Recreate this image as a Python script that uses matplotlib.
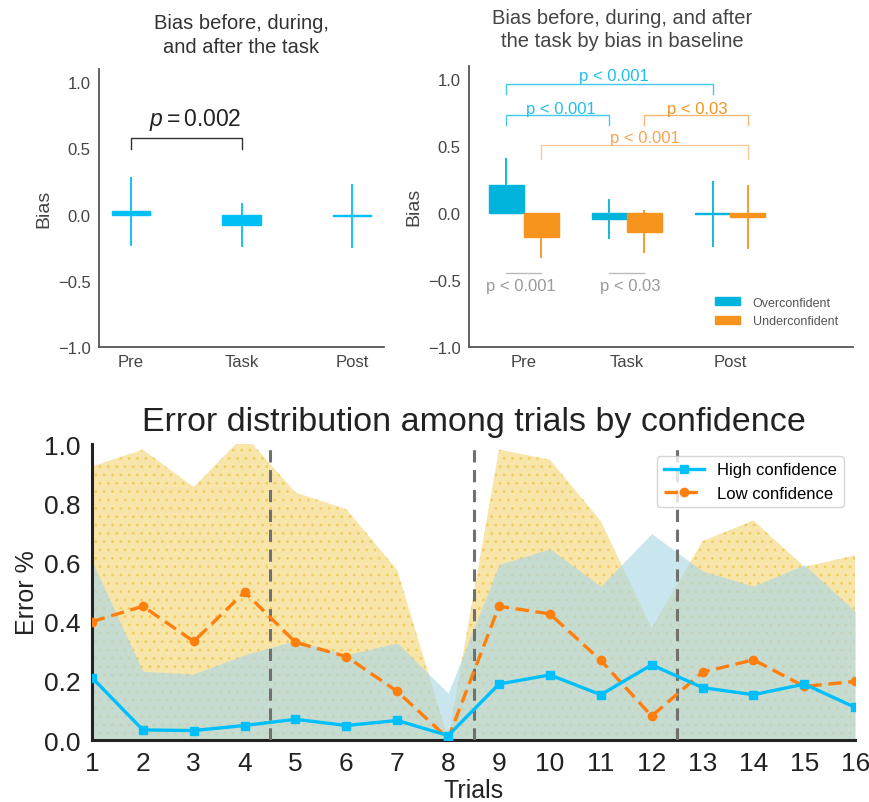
import matplotlib
matplotlib.use('Agg')
import matplotlib.pyplot as plt
from matplotlib.patches import Patch
import numpy as np

plt.rcParams['font.family'] = ['Liberation Sans', 'DejaVu Sans']
plt.rcParams['mathtext.fontset'] = 'custom'
plt.rcParams['mathtext.rm'] = 'Liberation Sans'
plt.rcParams['mathtext.it'] = 'Liberation Sans:italic'
plt.rcParams['hatch.linewidth'] = 0.8

# --- data ---
stages = ['Pre', 'Task', 'Post']
bias_all = [0.025, -0.08, -0.01]
bias_all_err = [0.26, 0.165, 0.24]

bias_over = [0.207, -0.045, -0.008]
bias_over_err = [0.205, 0.152, 0.248]
bias_under = [-0.182, -0.14, -0.03]
bias_under_err = [0.155, 0.162, 0.237]

trials = list(range(1, 17))
high_mean = [0.211, 0.034, 0.032, 0.049, 0.070, 0.049, 0.066, 0.015,
             0.189, 0.220, 0.153, 0.254, 0.177, 0.153, 0.189, 0.110]
high_sd = [0.394, 0.198, 0.191, 0.239, 0.266, 0.239, 0.262, 0.143,
           0.404, 0.426, 0.367, 0.443, 0.394, 0.367, 0.403, 0.325]
low_mean = [0.400, 0.452, 0.333, 0.500, 0.330, 0.282, 0.164, 0.005,
            0.452, 0.426, 0.269, 0.081, 0.229, 0.271, 0.181, 0.198]
low_sd = [0.524, 0.529, 0.522, 0.530, 0.506, 0.498, 0.410, 0.000,
          0.529, 0.521, 0.471, 0.297, 0.443, 0.471, 0.404, 0.426]
block_edges = [4.5, 8.5, 12.5]

blue = '#00bff5'
over_c = '#00b4dc'
under_c = '#f7941e'
txt_c = '#444444'

fig = plt.figure(figsize=(8.7, 8.03), dpi=100)

def style_top(ax):
    for s in ['top', 'right']:
        ax.spines[s].set_visible(False)
    for s in ['left', 'bottom']:
        ax.spines[s].set_color('#555555')
        ax.spines[s].set_linewidth(1.3)
    ax.tick_params(length=0, labelsize=12, colors=txt_c)
    ax.tick_params(axis='y', pad=6)
    ax.tick_params(axis='x', pad=5)
    ax.set_ylim(-1.0, 1.1)
    ax.set_yticks([-1.0, -0.5, 0.0, 0.5, 1.0])
    ax.set_ylabel('Bias', fontsize=14, color=txt_c, labelpad=4)

# --- top left ---
ax1 = fig.add_axes([0.1138, 0.5666, 0.3276, 0.3462])
x = np.arange(len(stages))
ax1.bar(x, bias_all, width=0.35, color=blue, edgecolor=blue, linewidth=1,
        yerr=bias_all_err, error_kw=dict(ecolor=blue, elinewidth=1.3, capsize=0))
ax1.set_xlim(-0.29, 2.29)
ax1.set_xticks(x)
ax1.set_xticklabels(stages)
style_top(ax1)
ax1.set_title('Bias before, during,\nand after the task', fontsize=14.5, color='#333333',
              pad=12, linespacing=1.35)
ax1.plot([0, 0, 1, 1], [0.495, 0.58, 0.58, 0.495], color='#333333', lw=1)
ax1.text(0.58, 0.68, '$p = 0.002$', ha='center', va='baseline', fontsize=16.5, color='#222222')

# --- top right ---
ax2 = fig.add_axes([0.539, 0.567, 0.4415, 0.35])
off = 0.17
ax2.bar(x - off, bias_over, width=0.34, color=over_c, edgecolor=over_c, linewidth=1,
        yerr=bias_over_err, error_kw=dict(ecolor=over_c, elinewidth=1.3, capsize=0),
        label='Overconfident')
ax2.bar(x + off, bias_under, width=0.34, color=under_c, edgecolor=under_c, linewidth=1,
        yerr=bias_under_err, error_kw=dict(ecolor=under_c, elinewidth=1.3, capsize=0),
        label='Underconfident')
ax2.set_xlim(-0.53, 3.19)
ax2.set_xticks(x)
ax2.set_xticklabels(stages)
style_top(ax2)
ax2.set_title('Bias before, during, and after\nthe task by bias in baseline', fontsize=14.5,
              color='#444444', pad=14, x=0.40, linespacing=1.3)

def bracket(ax, x0, x1, y, leg, color, text, tx, ty, tcolor):
    ax.plot([x0, x0, x1, x1], [leg, y, y, leg], color=color, lw=1)
    ax.text(tx, ty, text, ha='center', va='baseline', fontsize=12, color=tcolor)

bracket(ax2, -off, 2 - off, 0.965, 0.885, '#45c8ee', 'p < 0.001', 0.87, 0.995, '#1fbfee')
bracket(ax2, -off, 1 - off, 0.73, 0.656, '#45c8ee', 'p < 0.001', 0.365, 0.748, '#1fbfee')
bracket(ax2, 1 + off, 2 + off, 0.73, 0.656, '#f8b87a', 'p < 0.03', 1.68, 0.748, '#f7941e')
bracket(ax2, off, 2 + off, 0.509, 0.403, '#fac999', 'p < 0.001', 1.17, 0.527, '#f8a451')

for xc, label in [(0, 'p < 0.001'), (1, 'p < 0.03')]:
    ax2.plot([xc - off, xc + off], [-0.448, -0.448], color='#bbbbbb', lw=1)
    ax2.text(xc + 0.03 if xc == 1 else xc - 0.03, -0.575, label, ha='center',
             va='baseline', fontsize=12, color='#9a9a9a')

ax2.legend(handles=[Patch(color=over_c, label='Overconfident'),
                    Patch(color=under_c, label='Underconfident')],
           loc='lower right', bbox_to_anchor=(0.99, 0.03), frameon=False, fontsize=9,
           labelcolor='#555555', handlelength=2.0, handleheight=0.6, handletextpad=1.0)

# --- bottom ---
ax3 = fig.add_axes([0.1057, 0.0772, 0.8773, 0.3686])
t = np.array(trials)
hm, hs = np.array(high_mean), np.array(high_sd)
lm, ls = np.array(low_mean), np.array(low_sd)
ax3.fill_between(t, lm - ls, lm + ls, facecolor=(0.94, 0.78, 0.25, 0.45),
                 edgecolor='#f2cc5e', hatch='..', linewidth=0, zorder=1)
ax3.fill_between(t, hm - hs, hm + hs, color='lightblue', alpha=0.65, linewidth=0, zorder=2)
for xv in block_edges:
    ax3.axvline(xv, color='#707070', ls=(0, (4, 2.5)), lw=2.2, zorder=3)
ax3.plot(t, hm, color='#00bfff', lw=2.4, marker='s', markersize=6, label='High confidence', zorder=5)
ax3.plot(t, lm, color='#ff7f0e', lw=2.4, ls=(0, (4, 2)), marker='o', markersize=6,
         label='Low confidence', zorder=4)
ax3.set_xlim(1, 16)
ax3.set_ylim(0, 1.0)
ax3.set_xticks(trials)
ax3.set_yticks([0.0, 0.2, 0.4, 0.6, 0.8, 1.0])
ax3.set_yticklabels(['0.0', '0.2', '0.4', '0.6', '0.8', '1.0'])
for s in ['top', 'right']:
    ax3.spines[s].set_visible(False)
for s in ['left', 'bottom']:
    ax3.spines[s].set_color('#222222')
    ax3.spines[s].set_linewidth(2.2)
ax3.tick_params(length=0, labelsize=19, colors='#222222', pad=8)
ax3.set_xlabel('Trials', fontsize=18, color='#222222', labelpad=2)
ax3.set_ylabel('Error %', fontsize=18, color='#222222', labelpad=4)
ax3.set_title('Error distribution among trials by confidence', fontsize=24.5, color='#222222', pad=10)
leg = ax3.legend(loc='upper right', fontsize=12, frameon=True, fancybox=True,
                 borderaxespad=0.7, handlelength=2.4)
leg.get_frame().set_edgecolor('#cccccc')
leg.get_frame().set_linewidth(1)

fig.savefig('out.png', dpi=100)
